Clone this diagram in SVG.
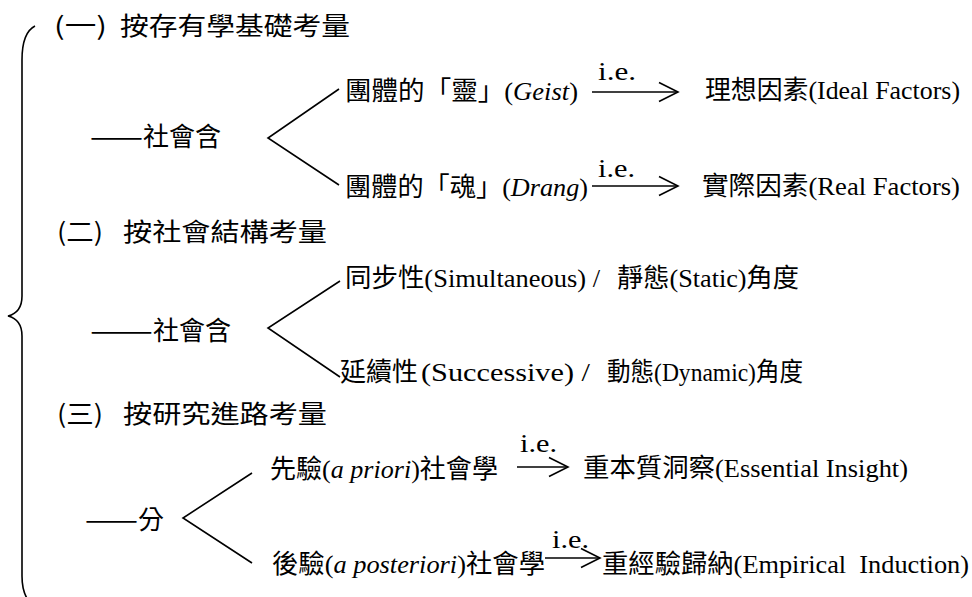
<svg xmlns="http://www.w3.org/2000/svg" width="972" height="597" viewBox="0 0 972 597">
<defs>
<style>
.h{font-family:"Noto Sans CJK TC","Noto Sans CJK SC",sans-serif;font-size:25px;fill:#000}
.c{font-family:"Noto Sans CJK TC","Noto Sans CJK SC",sans-serif;font-size:26px;fill:#000}
.m{font-family:"Liberation Serif","Noto Sans CJK TC","Noto Sans CJK SC",serif;font-size:26px;fill:#000}
.ie{font-family:"Liberation Serif",serif;font-size:25px;fill:#000}
.it{font-style:italic}
.ln{stroke:#000;stroke-width:1.6;fill:none}
</style>
<marker id="chev" viewBox="0 0 20 20" refX="19" refY="10" markerWidth="20" markerHeight="20" orient="auto" markerUnits="userSpaceOnUse" overflow="visible">
<path d="M0,0.5 L19,10 L0,19.5" fill="none" stroke="#000" stroke-width="1.6"/>
</marker>
</defs>
<rect width="972" height="597" fill="#fff"/>

<g id="connectors">
<path class="ln" d="M35,26 C27,30 22,42 22,60 L22,296 C22,308 16,314 8,316 C16,318 22,324 22,336 L22,576 C22,588 24,594 28,600"/>
<polyline class="ln" points="339,89 268,138 339,185"/>
<polyline class="ln" points="340,281 268,328 340,377"/>
<polyline class="ln" points="252,473 183,518 252,563"/>
<line class="ln" x1="592" y1="92" x2="678" y2="92" marker-end="url(#chev)"/>
<line class="ln" x1="592" y1="186" x2="678" y2="186" marker-end="url(#chev)"/>
<line class="ln" x1="517" y1="467" x2="568" y2="467" marker-end="url(#chev)"/>
<line class="ln" x1="545" y1="558" x2="600" y2="558" marker-end="url(#chev)"/>
</g>

<g id="heading1">
<text class="h" x="54" y="35" textLength="53" lengthAdjust="spacingAndGlyphs">(一)</text>
<text class="h" x="120" y="35" textLength="230" lengthAdjust="spacingAndGlyphs">按存有學基礎考量</text>
</g>
<g id="s1-root">
<text class="c" x="90" y="146" textLength="53" lengthAdjust="spacingAndGlyphs">——</text>
<text class="c" x="143" y="146">社會含</text>
</g>
<g id="s1-geist">
<text class="m" x="345" y="100" textLength="233" lengthAdjust="spacingAndGlyphs">團體的「靈」(<tspan class="it">Geist</tspan>)</text>
</g>
<g id="s1-ie1"><text class="ie" x="598" y="80" textLength="38" lengthAdjust="spacingAndGlyphs">i.e.</text></g>
<g id="s1-ideal">
<text class="m" x="705" y="99" textLength="255" lengthAdjust="spacingAndGlyphs">理想因素(Ideal Factors)</text>
</g>
<g id="s1-drang">
<text class="m" x="345" y="196" textLength="243" lengthAdjust="spacingAndGlyphs">團體的「魂」(<tspan class="it">Drang</tspan>)</text>
</g>
<g id="s1-ie2"><text class="ie" x="598" y="177" textLength="37" lengthAdjust="spacingAndGlyphs">i.e.</text></g>
<g id="s1-real">
<text class="m" x="702" y="195" textLength="258" lengthAdjust="spacingAndGlyphs">實際因素(Real Factors)</text>
</g>

<g id="heading2">
<text class="h" x="57" y="241" textLength="46" lengthAdjust="spacingAndGlyphs">(二)</text>
<text class="h" x="123" y="241" textLength="204" lengthAdjust="spacingAndGlyphs">按社會結構考量</text>
</g>
<g id="s2-root">
<text class="c" x="90" y="340" textLength="63" lengthAdjust="spacingAndGlyphs">——</text>
<text class="c" x="153" y="340">社會含</text>
</g>
<g id="s2-static">
<text class="m" x="345" y="287" textLength="255" lengthAdjust="spacingAndGlyphs">同步性(Simultaneous) /</text>
<text class="m" x="617" y="287" textLength="182" lengthAdjust="spacingAndGlyphs">靜態(Static)角度</text>
</g>
<g id="s2-dynamic">
<text class="c" x="340" y="381">延續性</text>
<text class="m" x="421" y="381" textLength="169" lengthAdjust="spacingAndGlyphs">(Successive) /</text>
<text class="m" x="607" y="381" textLength="196" lengthAdjust="spacingAndGlyphs">動態(Dynamic)角度</text>
</g>

<g id="heading3">
<text class="h" x="57" y="423" textLength="46" lengthAdjust="spacingAndGlyphs">(三)</text>
<text class="h" x="123" y="423" textLength="204" lengthAdjust="spacingAndGlyphs">按研究進路考量</text>
</g>
<g id="s3-root">
<text class="c" x="85" y="529" textLength="53" lengthAdjust="spacingAndGlyphs">——</text>
<text class="c" x="138" y="529">分</text>
</g>
<g id="s3-priori">
<text class="m" x="270" y="478" textLength="228" lengthAdjust="spacingAndGlyphs">先驗(<tspan class="it">a priori</tspan>)社會學</text>
</g>
<g id="s3-ie1"><text class="ie" x="520" y="452" textLength="37" lengthAdjust="spacingAndGlyphs">i.e.</text></g>
<g id="s3-essential">
<text class="m" x="583" y="477" textLength="325" lengthAdjust="spacingAndGlyphs">重本質洞察(Essential Insight)</text>
</g>
<g id="s3-posteriori">
<text class="m" x="272" y="573" textLength="273" lengthAdjust="spacingAndGlyphs">後驗(<tspan class="it">a posteriori</tspan>)社會學</text>
</g>
<g id="s3-ie2"><text class="ie" x="552" y="548" textLength="37" lengthAdjust="spacingAndGlyphs">i.e.</text></g>
<g id="s3-empirical">
<text class="m" x="602" y="573" textLength="367" lengthAdjust="spacingAndGlyphs">重經驗歸納(Empirical&#160; Induction)</text>
</g>
</svg>
